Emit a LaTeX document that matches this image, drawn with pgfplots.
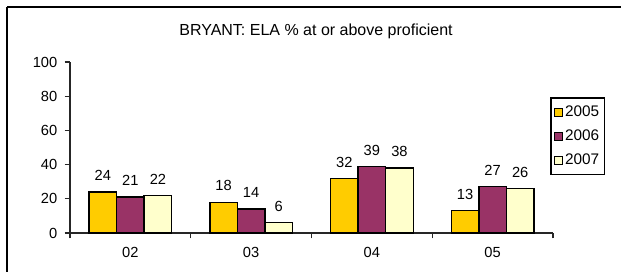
\documentclass[border=0pt]{standalone}
\usepackage{pgfplots}
\pgfplotsset{compat=1.18}
\usepackage{fontspec}
\setmainfont{Liberation Sans}
\definecolor{cA}{HTML}{FFCC00}
\definecolor{cB}{HTML}{993366}
\definecolor{cC}{HTML}{FFFFCC}
\begin{document}
\begin{tikzpicture}[x=0.75pt,y=0.75pt]
\useasboundingbox (0,0) rectangle (621,272);
\draw[line width=1.5pt] (7,265) -- (621,265);
\draw[line width=1.5pt] (7,265) -- (7,0);
\node[font=\fontsize{12}{14}\selectfont] at (316,241) {BRYANT: ELA \% at or above proficient};
\begin{axis}[
  at={(97.8pt,29.25pt)}, anchor=origin,
  width=362.25pt, height=128.25pt, scale only axis,
  xmin=-0.5, xmax=3.5, ymin=0, ymax=100,
  axis x line*=bottom, axis y line*=left,
  axis line style={-, line width=1pt, black!85},
  xtick={0,1,2,3}, xticklabels={02,03,04,05},
  minor xtick={-0.5,0.5,1.5,2.5,3.5},
  major x tick style={draw=none},
  minor x tick style={line width=0.9pt, black!85},
  minor tick length=4pt,
  ytick={0,20,40,60,80,100},
  y tick style={line width=0.9pt, black!85},
  major tick length=4pt,
  tick align=outside,
  tick label style={font=\fontsize{11}{13}\selectfont},
  /pgf/number format/assume math mode=true,
  xticklabel style={yshift=-3pt},
  yticklabel style={xshift=-2pt},
  ybar,
  bar width=0.228,
  nodes near coords,
  every node near coord/.append style={font=\fontsize{11}{13}\selectfont, black, yshift=4.5pt},
  legend style={at={(0.994,0.795)}, anchor=north west, draw=black, line width=1.1pt,
    font=\fontsize{11.5}{13}\selectfont, inner xsep=2pt, inner ysep=4pt,
    row sep=4.5pt, cells={anchor=west}},
  legend image code/.code={\draw[#1, line width=0.6pt] (0pt,-3pt) rectangle (6pt,3pt);},
]
\addplot[bar shift=-0.228, fill=cA, draw=black, line width=1pt] coordinates {(0,24) (1,18) (2,32) (3,13)};
\addplot[bar shift=0, fill=cB, draw=black, line width=1pt] coordinates {(0,21) (1,14) (2,39) (3,27)};
\addplot[bar shift=0.228, fill=cC, draw=black, line width=1pt] coordinates {(0,22) (1,6) (2,38) (3,26)};
\legend{2005,2006,2007}
\end{axis}
\end{tikzpicture}
\end{document}
